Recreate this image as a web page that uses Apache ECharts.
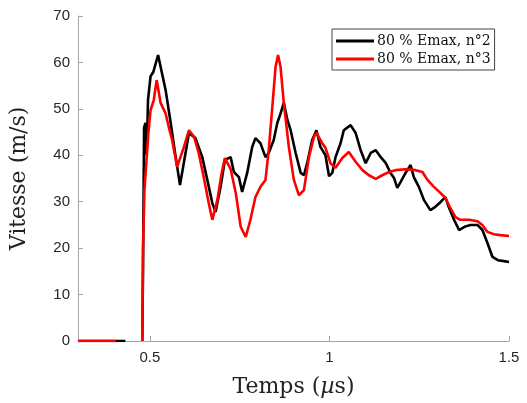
<!DOCTYPE html>
<html>
<head>
<meta charset="utf-8">
<script src="https://cdn.jsdelivr.net/npm/echarts@6/dist/echarts.min.js"></script>
<style>
  html, body { margin: 0; padding: 0; background: #fff; }
  #chart { width: 527px; height: 403px; }
</style>
</head>
<body>
<div id="chart"></div>
<script>
// Velocity traces, time in µs, speed in m/s
const seriesNames = ['80 % Emax, n°2', '80 % Emax, n°3'];

const timeN2 = [0.30, 0.432, null, 0.479, 0.481, 0.484, 0.488, 0.491, 0.495, 0.502, 0.510, 0.523, 0.544, 0.558, 0.572, 0.584,
  0.609, 0.627, 0.646, 0.660, 0.674, 0.683, 0.697, 0.709, 0.725, 0.734, 0.748, 0.757, 0.771, 0.785, 0.794,
  0.808, 0.822, 0.831, 0.845, 0.855, 0.864, 0.873, 0.883, 0.892, 0.906, 0.920, 0.929, 0.938, 0.952, 0.964,
  0.975, 0.989, 0.999, 1.008, 1.017, 1.031, 1.040, 1.059, 1.073, 1.087, 1.101, 1.115, 1.129, 1.143, 1.157,
  1.170, 1.180, 1.189, 1.198, 1.212, 1.226, 1.235, 1.249, 1.263, 1.281, 1.295, 1.309, 1.323, 1.332, 1.347,
  1.361, 1.376, 1.393, 1.412, 1.426, 1.440, 1.454, 1.469, 1.486, 1.500];
const speedN2 = [0, 0, null, 0, 15, 46, 47, 40, 52, 57, 58, 61.6, 54, 47, 39.6, 33.6,
  44.8, 43.7, 39.6, 34.7, 29.7, 27.8, 33.2, 39, 39.6, 36.4, 35.3, 32.1, 36.2, 41.8, 43.7,
  42.6, 39.6, 40.5, 43.3, 47, 49, 51.3, 47.6, 45.4, 40.5, 36.2, 35.7, 38.3, 43.3, 45.4,
  41.8, 40, 35.5, 36.2, 39.6, 42.6, 45.4, 46.5, 44.8, 41.1, 38.3, 40.5, 41.1, 39.6, 38.3,
  36.2, 35.1, 33, 34.2, 36.2, 37.9, 35.3, 33.2, 30.4, 28.2, 28.9, 29.9, 31, 28.9, 26.1,
  23.9, 24.6, 25, 25, 23.9, 21.1, 18.1, 17.4, 17.2, 17];

const timeN3 = [0.30, 0.405, null, 0.479, 0.481, 0.485, 0.496, 0.502, 0.511, 0.519, 0.530, 0.544, 0.553, 0.562, 0.576,
  0.581, 0.595, 0.609, 0.623, 0.636, 0.650, 0.664, 0.674, 0.688, 0.700, 0.709, 0.725, 0.739, 0.753, 0.767,
  0.780, 0.794, 0.808, 0.822, 0.831, 0.841, 0.850, 0.857, 0.864, 0.873, 0.887, 0.901, 0.915, 0.929, 0.943,
  0.957, 0.964, 0.980, 0.989, 1.003, 1.017, 1.036, 1.054, 1.073, 1.092, 1.110, 1.129, 1.147, 1.166, 1.184,
  1.212, 1.240, 1.259, 1.273, 1.291, 1.309, 1.323, 1.337, 1.351, 1.365, 1.389, 1.412, 1.426, 1.440, 1.458,
  1.476, 1.500];
const speedN3 = [0, 0, null, 0, 20, 32.5, 44.8, 49.7, 51.9, 56.2, 51.3, 49, 46, 43.3, 37.5,
  37.3, 41.8, 45.4, 44, 40.5, 35.3, 29.7, 26.1, 30.4, 36.2, 39.4, 37, 32, 24.6, 22.4,
  26.1, 31, 33.2, 34.7, 41.1, 50.4, 59, 61.6, 59, 51.3, 41.8, 34.7, 31.4, 32.5, 39.6,
  44, 44.8, 42.6, 41.6, 38.3, 37.3, 39.4, 40.7, 38.6, 36.8, 35.7, 34.9, 35.7, 36.4, 36.8,
  37, 36.8, 36.4, 34.7, 33.2, 31.9, 30.8, 28.6, 26.7, 26.1, 26.1, 25.8, 25, 23.5, 23,
  22.8, 22.6];

const xTicks = [0.5, 1, 1.5];
const yTicks = [0, 10, 20, 30, 40, 50, 60, 70];

function pairs(xs, ys) {
  return xs.map((x, i) => (x === null ? [null, null] : [x, ys[i]]));
}

const axisGray = '#a6a6a6';
const tickText = '#262626';
const serif = '"DejaVu Serif", "Liberation Serif", serif';
const sans = '"Liberation Sans", Arial, sans-serif';

const chart = echarts.init(document.getElementById('chart'), null, { renderer: 'canvas' });
chart.setOption({
  animation: false,
  backgroundColor: '#ffffff',
  grid: { left: 77, right: 18, top: 16, bottom: 62 },
  legend: {
    data: seriesNames,
    orient: 'vertical',
    left: 332,
    top: 29,
    width: 163,
    itemGap: 4,
    itemWidth: 38,
    itemHeight: 3,
    icon: 'rect',
    padding: [5, 4, 4, 4],
    borderColor: '#444',
    borderWidth: 1,
    backgroundColor: '#fff',
    textStyle: { fontFamily: serif, fontSize: 14, color: '#111', padding: [0, 0, 0, -2] }
  },
  xAxis: {
    type: 'value',
    min: 0.3,
    max: 1.5,
    name: '{a|Temps (}{b|µ}{a|s)}',
    nameLocation: 'middle',
    nameGap: 35,
    nameTextStyle: {
      rich: {
        a: { fontFamily: serif, fontSize: 22, color: '#222' },
        b: { fontFamily: serif, fontStyle: 'italic', fontSize: 22, color: '#222' }
      }
    },
    axisLine: { show: true, lineStyle: { color: axisGray, width: 1 } },
    axisTick: { show: true, inside: true, length: 5, lineStyle: { color: axisGray },
      customValues: xTicks },
    axisLabel: { color: tickText, fontFamily: sans, fontSize: 15, margin: 9,
      customValues: xTicks, formatter: v => String(v) },
    splitLine: { show: false }
  },
  yAxis: {
    type: 'value',
    min: 0,
    max: 70,
    interval: 10,
    name: 'Vitesse (m/s)',
    nameLocation: 'middle',
    nameGap: 48,
    nameTextStyle: { fontFamily: serif, fontSize: 22, color: '#222' },
    axisLine: { show: true, lineStyle: { color: axisGray, width: 1 } },
    axisTick: { show: true, inside: true, length: 5, lineStyle: { color: axisGray },
      customValues: yTicks },
    axisLabel: { color: tickText, fontFamily: sans, fontSize: 15, margin: 8,
      customValues: yTicks },
    splitLine: { show: false }
  },
  series: [
    {
      name: seriesNames[0],
      type: 'line',
      data: pairs(timeN2, speedN2),
      showSymbol: false,
      connectNulls: false,
      color: '#000000',
      lineStyle: { color: '#000000', width: 2.6 },
      z: 2
    },
    {
      name: seriesNames[1],
      type: 'line',
      data: pairs(timeN3, speedN3),
      showSymbol: false,
      connectNulls: false,
      color: '#ff0000',
      lineStyle: { color: '#ff0000', width: 2.6 },
      z: 3
    }
  ]
});
</script>
</body>
</html>
